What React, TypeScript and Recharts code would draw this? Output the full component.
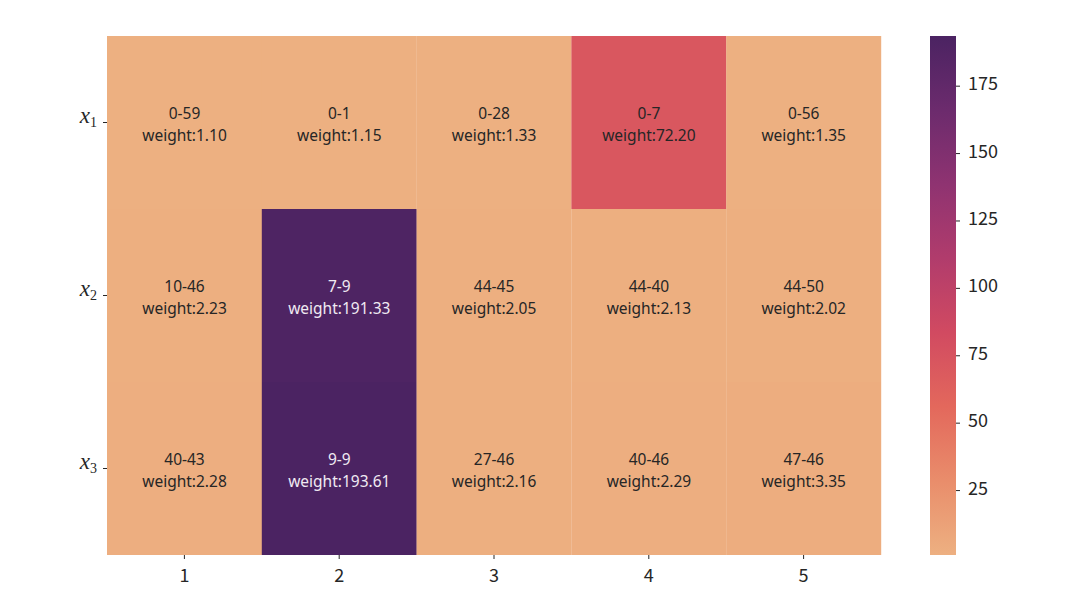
import { BarChart, Bar, XAxis, YAxis, Cell, LabelList } from 'recharts'

// heatmap values, rows top to bottom
const columns = ['1', '2', '3', '4', '5']
const rowNames = ['1', '2', '3']
const ranges = [
  ['0-59', '0-1', '0-28', '0-7', '0-56'],
  ['10-46', '7-9', '44-45', '44-40', '44-50'],
  ['40-43', '9-9', '27-46', '40-46', '47-46'],
]
const weights = [
  [1.1, 1.15, 1.33, 72.2, 1.35],
  [2.23, 191.33, 2.05, 2.13, 2.02],
  [2.28, 193.61, 2.16, 2.29, 3.35],
]
const colorbarTicks = [25, 50, 75, 100, 125, 150, 175]

// seaborn "flare"
const flareStops: [number, string][] = [
  [0, '#edb081'],
  [0.143, '#e98d6b'],
  [0.286, '#e3685c'],
  [0.429, '#d14a61'],
  [0.571, '#b13c6c'],
  [0.714, '#8f3371'],
  [0.857, '#6c2b6d'],
  [1, '#4b2362'],
]

const wMin = Math.min(...weights.flat())
const wMax = Math.max(...weights.flat())

const hex = (s: string) => [1, 3, 5].map((i) => parseInt(s.slice(i, i + 2), 16))

function flare(t: number) {
  t = Math.max(0, Math.min(1, t))
  for (let i = 1; i < flareStops.length; i++) {
    const [t1, c1] = flareStops[i]
    const [t0, c0] = flareStops[i - 1]
    if (t <= t1) {
      const f = (t - t0) / (t1 - t0)
      const a = hex(c0)
      const b = hex(c1)
      return `rgb(${a.map((v, k) => Math.round(v + (b[k] - v) * f)).join(',')})`
    }
  }
  return flareStops[flareStops.length - 1][1]
}

const norm = (v: number) => (v - wMin) / (wMax - wMin)

// one row per column, every cell stacked with height 1
const tableData = columns.map((c) => ({ col: c, r0: 1, r1: 1, r2: 1 }))

const FONT = '"Noto Sans CJK SC", "Noto Sans", sans-serif'
const CELL_FONT = '"Noto Sans", sans-serif'
const INK = '#262626'

const YTick = (props: any) => {
  const { x, y, payload } = props
  const i = rowNames.length - 1 - Math.floor(payload.value)
  return (
    <text x={x} y={y} textAnchor="end" fontFamily='"Liberation Serif", serif' fill={INK}>
      <tspan fontStyle="italic" fontSize={23}>x</tspan>
      <tspan fontSize={14} dy={4}>{rowNames[i]}</tspan>
    </text>
  )
}

const BarTick = (props: any) => {
  const { x, y, payload } = props
  return (
    <text x={x} y={y} dy={4} textAnchor="start" fontFamily={FONT} fontSize={18} fill={INK}>
      {payload.value}
    </text>
  )
}

const cellLabel = (row: number) => (props: any) => {
  const { x, y, width, height, index } = props
  const w = weights[row][index]
  const cx = x + width / 2
  const cy = y + height / 2
  const fill = norm(w) > 0.5 ? '#f0eaf2' : INK
  return (
    <g>
      <text x={cx} y={cy - 4} textAnchor="middle" fontFamily={CELL_FONT} fontSize={15.5} fill={fill}>
        {ranges[row][index]}
      </text>
      <text x={cx} y={cy + 18} textAnchor="middle" fontFamily={CELL_FONT} fontSize={15.5} fill={fill}>
        {`weight:${w.toFixed(2)}`}
      </text>
    </g>
  )
}

export default function App() {
  // bottom row first in the stack
  const stackOrder = [2, 1, 0]
  return (
    <div style={{ position: 'absolute', left: 0, top: 0, width: 1080, height: 607, background: '#fff' }}>
      <svg width={0} height={0} style={{ position: 'absolute' }}>
        <defs>
          <linearGradient id="flareGrad" x1="0" y1="1" x2="0" y2="0">
            {flareStops.map(([t, c]) => (
              <stop key={t} offset={t} stopColor={c} />
            ))}
          </linearGradient>
        </defs>
      </svg>
      <div style={{ position: 'absolute', left: 0, top: 0 }}>
        <BarChart
          width={900}
          height={607}
          data={tableData}
          margin={{ top: 36, right: 19, left: 0, bottom: 0 }}
          barCategoryGap={0}
          barGap={0}
        >
          <XAxis
            dataKey="col"
            height={52}
            axisLine={false}
            tickLine={{ stroke: INK }}
            tickSize={4}
            tickMargin={10}
            tick={{ fill: INK, fontSize: 18, fontFamily: FONT }}
          />
          <YAxis
            type="number"
            domain={[0, 3]}
            ticks={[0.5, 1.5, 2.5]}
            width={107}
            axisLine={false}
            tickLine={{ stroke: INK }}
            tickSize={4}
            tickMargin={6}
            tick={<YTick />}
          />
          {stackOrder.map((row) => (
            <Bar key={row} dataKey={`r${row}`} stackId="a" isAnimationActive={false}>
              {columns.map((c, j) => (
                <Cell key={c} fill={flare(norm(weights[row][j]))} />
              ))}
              <LabelList dataKey={`r${row}`} content={cellLabel(row)} />
            </Bar>
          ))}
        </BarChart>
      </div>
      <div style={{ position: 'absolute', left: 930, top: 0 }}>
        <BarChart
          width={100}
          height={607}
          data={[{ name: 'c', v: wMax }]}
          margin={{ top: 36, right: 0, left: 0, bottom: 52 }}
          barCategoryGap={0}
        >
          <XAxis dataKey="name" hide />
          <YAxis
            orientation="right"
            type="number"
            domain={[wMin, wMax]}
            allowDataOverflow
            ticks={colorbarTicks}
            width={74}
            axisLine={false}
            tickLine={{ stroke: INK }}
            tickSize={4}
            tickMargin={8}
            tick={<BarTick />}
          />
          <Bar dataKey="v" fill="url(#flareGrad)" isAnimationActive={false} />
        </BarChart>
      </div>
    </div>
  )
}
